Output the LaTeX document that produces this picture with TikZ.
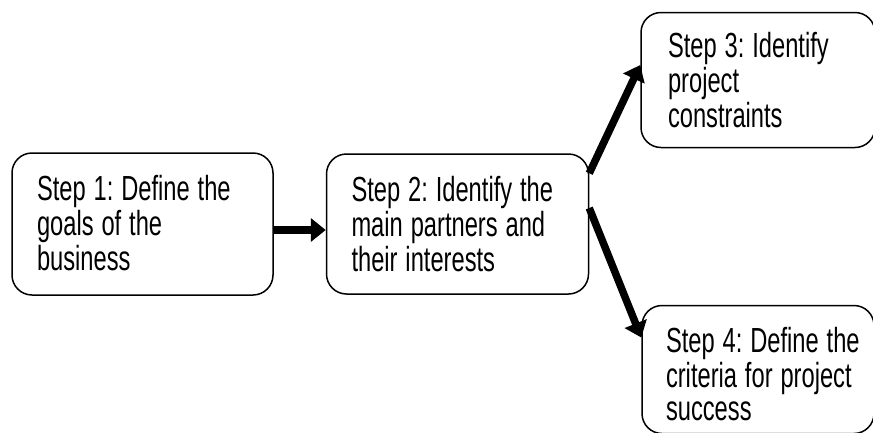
\documentclass[tikz,border=0pt]{standalone}
\usepackage{fontspec}
\setmainfont{Liberation Sans}
\usetikzlibrary{positioning,arrows.meta}
% tall narrow lettering as in the reference
\newcommand{\steptext}[1]{\scalebox{1}[1.47]{\begin{tabular}[t]{@{}l@{}}#1\end{tabular}}}
\begin{document}
\begin{tikzpicture}[x=1pt, y=-1pt,
    stepbox/.style = {draw, line width=1.5pt, rounded corners=20pt, align=left,
      inner xsep=25pt, inner ysep=0pt, font=\fontsize{23.7}{22.1}\selectfont\frenchspacing},
    flow/.style = {line width=7.5pt, -{Triangle[length=15pt,width=23pt]}}]
        \useasboundingbox (0,0) rectangle (873,432);
        \node[stepbox, minimum width=261pt, minimum height=142pt, text width=211pt, text depth=72.7pt] (s1) at (142.5,224) {\steptext{Step 1: Define the\\goals of the\\business}};
        \node[stepbox, minimum width=262pt, minimum height=140pt, text width=212pt, text depth=70.7pt] (s2) [right=52pt of s1] {\steptext{Step 2: Identify the\\main partners and\\their interests}};
        \node[stepbox, inner xsep=27pt, minimum width=234pt, minimum height=135pt, text width=180pt, text depth=69.7pt] (s3) [above right=5pt and 51pt of s2] {\steptext{Step 3: Identify\\project\\constraints}};
        \node[stepbox, inner xsep=24pt, minimum width=232pt, minimum height=128pt, text width=184pt, text depth=58.7pt] (s4) [below right=10pt and 52pt of s2] {\steptext{Step 4: Define the\\criteria for project\\success}};
        %
        \draw[flow] ([yshift=-6pt]s1.east) -- ([yshift=-6pt]s2.west);
        \draw[flow] ([yshift=-20pt]s2.north east) -- ([yshift=15pt]s3.west);
        \draw[flow] ([yshift=16pt]s2.east) -- ([yshift=32pt]s4.west);
      \end{tikzpicture}
\end{document}
